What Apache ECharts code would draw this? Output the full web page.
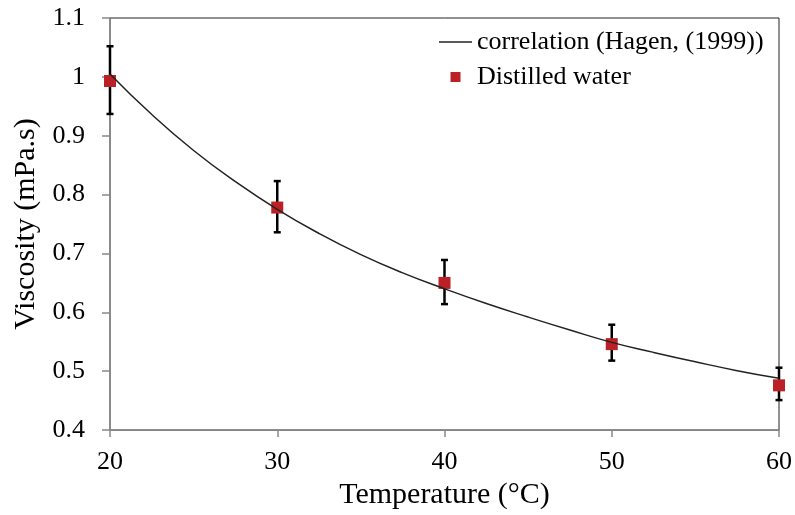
<!DOCTYPE html>
<html>
<head>
<meta charset="utf-8">
<script src="https://cdn.jsdelivr.net/npm/echarts@6/dist/echarts.min.js"></script>
<style>
html,body{margin:0;padding:0;background:#fff;}
#chart{width:795px;height:515px;}
</style>
</head>
<body>
<div id="chart"></div>
<script>
const temperature = [20, 30, 40, 50, 60];
const viscosity = [0.993, 0.778, 0.650, 0.546, 0.476];
const errUpper = [1.052, 0.823, 0.689, 0.579, 0.506];
const errLower = [0.937, 0.736, 0.614, 0.518, 0.451];
const corrT = [20, 22.5, 25, 27.5, 30, 32.5, 35, 37.5, 40, 42.5, 45, 47.5, 50, 52.5, 55, 57.5, 60];
const corrV = [1.005, 0.936, 0.875, 0.822, 0.775, 0.734, 0.698, 0.667, 0.640, 0.615, 0.592, 0.570, 0.549, 0.532, 0.516, 0.501, 0.488];
const xTicks = {min: 20, max: 60, interval: 10};
const yTicks = {min: 0.4, max: 1.1, interval: 0.1};

const FONT = '"Liberation Serif","Times New Roman",serif';
const chart = echarts.init(document.getElementById('chart'), null, {renderer: 'canvas'});

const errData = temperature.map((t, i) => [t, errLower[i], errUpper[i]]);
const pointData = temperature.map((t, i) => [t, viscosity[i]]);
const lineData = corrT.map((t, i) => [t, corrV[i]]);

chart.setOption({
  backgroundColor: '#fff',
  animation: false,
  grid: {left: 110, right: 14, top: 18, bottom: 82, show: true, borderColor: '#222', borderWidth: 1},
  legend: {
    orient: 'vertical', left: 434, top: 24, itemGap: 9,
    itemWidth: 33, itemHeight: 10, symbolKeepAspect: true,
    textStyle: {fontFamily: FONT, fontSize: 26, color: '#000', lineHeight: 26},
    data: [
      {name: 'correlation (Hagen, (1999))', icon: 'path://M0,0L100,0L100,4.5L0,4.5Z', itemStyle: {color: '#222'}},
      {name: 'Distilled water', icon: 'path://M0,0L10,0L10,10L0,10Z', itemStyle: {color: '#BA2025'}}
    ]
  },
  xAxis: {
    type: 'value', min: xTicks.min, max: xTicks.max, interval: xTicks.interval,
    name: 'Temperature (°C)', nameLocation: 'middle', nameGap: 47,
    nameTextStyle: {fontFamily: FONT, fontSize: 30, color: '#000'},
    axisLine: {show: true, lineStyle: {color: '#888', width: 1.5}},
    axisTick: {show: true, inside: false, length: 7, lineStyle: {color: '#888', width: 1.5}},
    axisLabel: {fontFamily: FONT, fontSize: 26, color: '#000', margin: 19},
    splitLine: {show: false}
  },
  yAxis: {
    type: 'value', min: yTicks.min, max: yTicks.max, interval: yTicks.interval,
    name: 'Viscosity (mPa.s)', nameLocation: 'middle', nameGap: 68,
    nameTextStyle: {fontFamily: FONT, fontSize: 30, color: '#000'},
    axisLine: {show: true, lineStyle: {color: '#888', width: 1.5}},
    axisTick: {show: true, inside: false, length: 8, lineStyle: {color: '#888', width: 1.5}},
    axisLabel: {fontFamily: FONT, fontSize: 26, color: '#000', margin: 25},
    splitLine: {show: false}
  },
  series: [
    {
      type: 'custom', name: 'err', z: 2, clip: false,
      data: errData,
      renderItem: function (params, api) {
        const x = api.value(0);
        const lo = api.coord([x, api.value(1)]);
        const hi = api.coord([x, api.value(2)]);
        const cap = 3.5;
        const st = {stroke: '#000', lineWidth: 2.5};
        return {
          type: 'group',
          children: [
            {type: 'line', shape: {x1: lo[0], y1: lo[1], x2: hi[0], y2: hi[1]}, style: st},
            {type: 'line', shape: {x1: lo[0] - cap, y1: lo[1], x2: lo[0] + cap, y2: lo[1]}, style: st},
            {type: 'line', shape: {x1: hi[0] - cap, y1: hi[1], x2: hi[0] + cap, y2: hi[1]}, style: st}
          ]
        };
      }
    },
    {
      type: 'scatter', name: 'Distilled water', z: 3, clip: false,
      data: pointData, symbol: 'rect', symbolSize: 12,
      itemStyle: {color: '#BA2025', opacity: 1}
    },
    {
      type: 'line', name: 'correlation (Hagen, (1999))', z: 4, clip: false,
      data: lineData, smooth: true, symbol: 'none', showSymbol: false,
      lineStyle: {color: '#222', width: 1.5},
      itemStyle: {color: '#222'}
    }
  ]
});
</script>
</body>
</html>
